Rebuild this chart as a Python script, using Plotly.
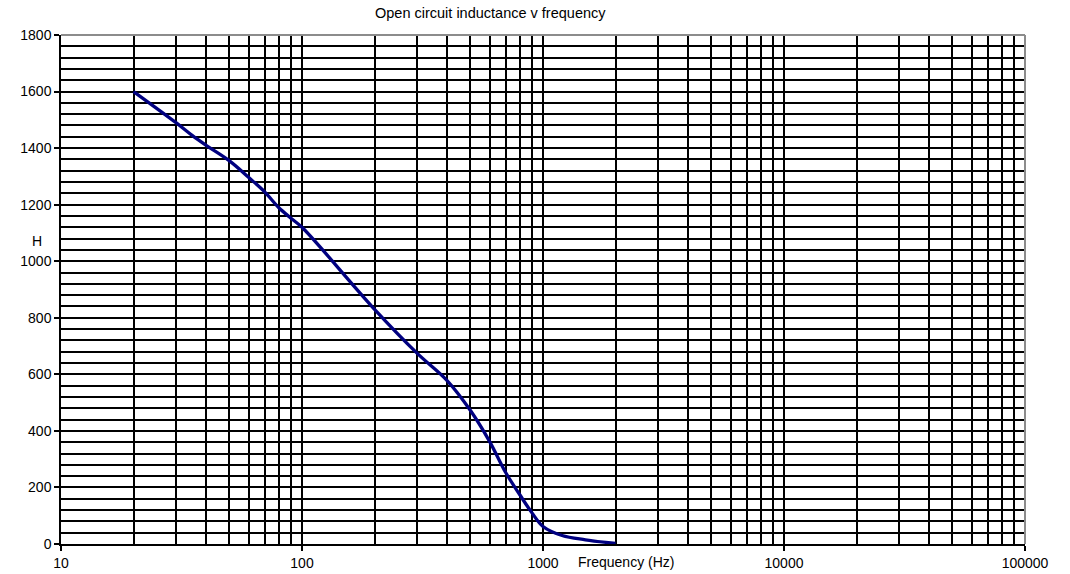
import plotly.graph_objects as go

freq_hz = [20, 30, 35, 40, 50, 60, 70, 80, 90, 100, 200, 300, 400, 500, 600, 700, 800, 900, 1000, 1200, 1500, 2000]
inductance_h = [1600, 1490, 1445, 1410, 1355, 1297, 1245, 1190, 1152, 1120, 830, 675, 578, 472, 363, 253, 175, 110, 62, 30, 15, 2]

x_major = [10, 100, 1000, 10000, 100000]
x_minor = [m * d for d in [10, 100, 1000, 10000] for m in range(2, 10)]
y_major = list(range(0, 1801, 200))
y_minor = list(range(0, 1801, 40))

fig = go.Figure()
fig.add_trace(go.Scatter(
    x=freq_hz, y=inductance_h, mode="lines",
    line=dict(color="#000080", width=3.3, shape="spline", smoothing=1.0),
    showlegend=False, hoverinfo="x+y",
))

font = dict(family="Liberation Sans, Arial, sans-serif", size=14, color="black")
grid_w = 1.8

fig.update_layout(
    template="none",
    width=1070, height=574,
    margin=dict(l=61, r=45, t=35, b=30, autoexpand=False),
    paper_bgcolor="white", plot_bgcolor="white",
    font=font,
    xaxis=dict(
        type="log", range=[1, 5], automargin=False,
        tickvals=x_major, ticktext=[str(v) for v in x_major],
        showgrid=True, gridcolor="black", gridwidth=grid_w,
        minor=dict(tickvals=x_minor, showgrid=True, gridcolor="black", gridwidth=grid_w, ticks=""),
        showline=True, linecolor="black", linewidth=1.5,
        ticks="outside", ticklen=5, tickcolor="black", tickwidth=1.5,
        zeroline=False, tickfont=font,
    ),
    yaxis=dict(
        range=[0, 1800], automargin=False,
        tickvals=y_major,
        showgrid=True, gridcolor="black", gridwidth=grid_w,
        minor=dict(tickvals=y_minor, showgrid=True, gridcolor="black", gridwidth=grid_w, ticks=""),
        showline=True, linecolor="black", linewidth=1.5,
        ticks="outside", ticklen=5, tickcolor="black", tickwidth=1.5,
        zeroline=False, tickfont=font,
    ),
    shapes=[
        dict(type="line", xref="paper", yref="paper", x0=0, x1=1, y0=1, y1=1,
             line=dict(color="#8c8c8c", width=2)),
        dict(type="line", xref="paper", yref="paper", x0=1, x1=1, y0=0, y1=1,
             line=dict(color="#8c8c8c", width=2)),
    ],
    annotations=[
        dict(text="Open circuit inductance v frequency", xref="paper", yref="paper",
             x=0.446, y=1, yshift=22, showarrow=False, xanchor="center", yanchor="middle",
             font=dict(family="Liberation Sans, Arial, sans-serif", size=14.5, color="black")),
        dict(text="Frequency (Hz)", xref="paper", yref="paper",
             x=0.586, y=0, yshift=-18, showarrow=False, xanchor="center", yanchor="middle",
             font=font),
        dict(text="H", xref="paper", yref="y",
             x=0, xshift=-24, y=1070, showarrow=False, xanchor="center", yanchor="middle",
             font=font),
    ],
)

fig.write_html(
    "out.html",
    config={"displayModeBar": False},
    post_script="document.body.style.margin='0';document.body.style.overflow='hidden';",
)
